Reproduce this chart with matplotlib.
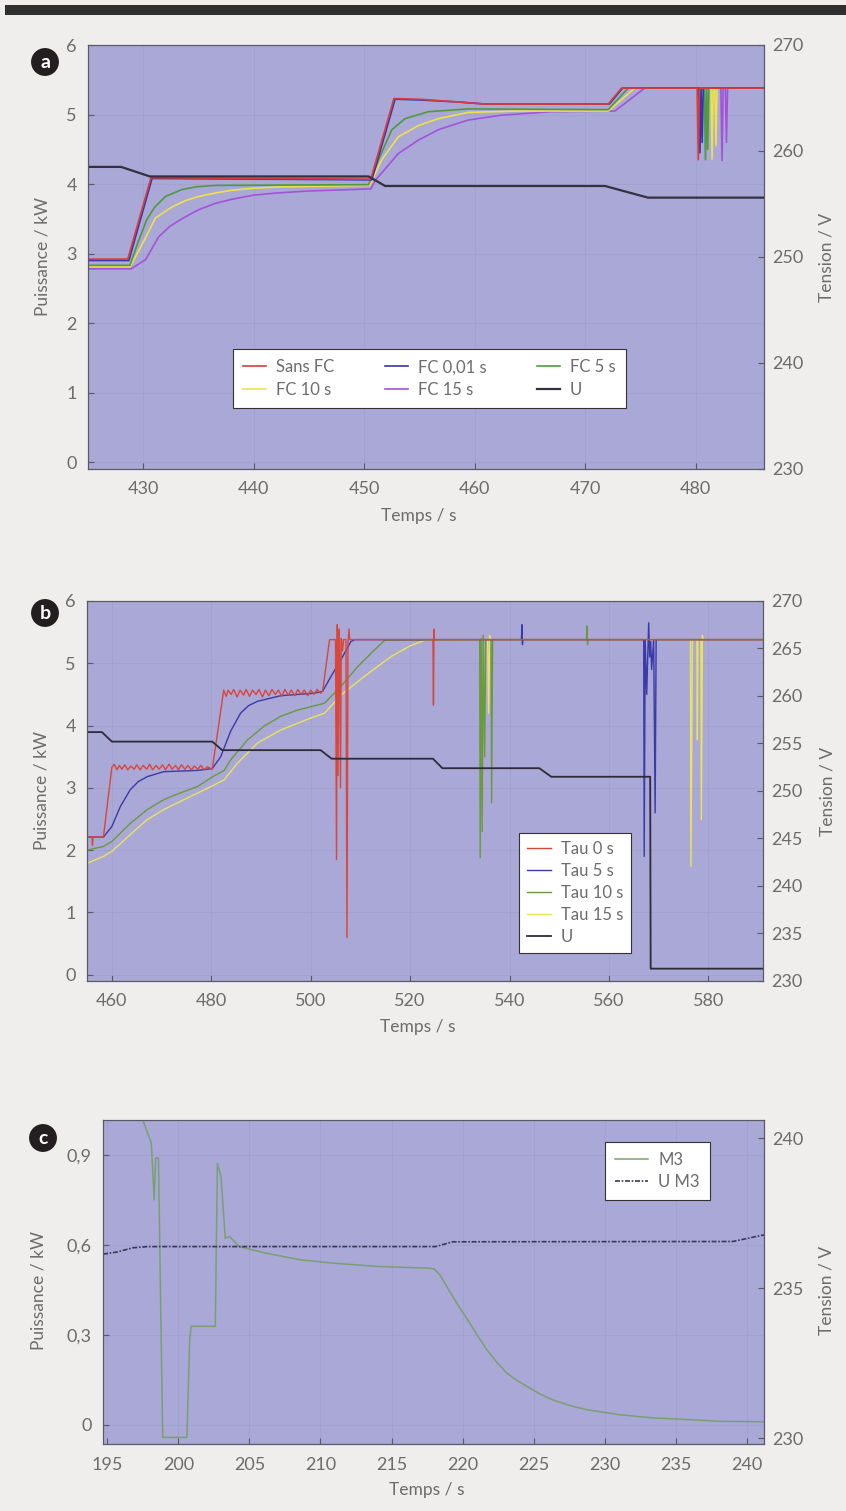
import matplotlib
matplotlib.use("Agg")
import matplotlib.pyplot as plt
from matplotlib.patches import Rectangle
from matplotlib.ticker import FuncFormatter

plt.rcParams['font.family'] = ['Lato', 'DejaVu Sans']

# ---------------- données (a) ----------------
a_sans_t = [425, 428.6, 430.7, 450.6, 452.7, 455.0, 458.5, 461.0, 472.1, 473.3, 480.15, 480.25, 480.35, 486.2]
a_sans_p = [2.92, 2.92, 4.09, 4.07, 5.23, 5.22, 5.18, 5.15, 5.15, 5.38, 5.38, 4.35, 5.38, 5.38]

a_fc001_t = [425, 428.7, 430.8, 450.7, 452.8, 455.0, 458.5, 461.0, 472.2, 473.4, 480.3, 480.4, 480.5, 480.6, 480.7, 486.2]
a_fc001_p = [2.90, 2.90, 4.08, 4.06, 5.22, 5.21, 5.18, 5.15, 5.15, 5.38, 5.38, 4.45, 5.38, 4.6, 5.38, 5.38]

a_fc5_t = [425, 428.8, 429.5, 430.3, 431.0, 432.0, 433.5, 434.8, 436.5, 450.4, 451.3, 452.5, 453.7,
           455.8, 459.4, 472.1, 473.9, 480.8, 480.9, 481.0, 481.1, 481.2, 486.2]
a_fc5_p = [2.83, 2.83, 3.15, 3.48, 3.66, 3.82, 3.92, 3.96, 3.98, 3.99, 4.35, 4.78, 4.94,
           5.04, 5.08, 5.07, 5.38, 5.38, 4.35, 5.38, 4.5, 5.38, 5.38]

a_fc10_t = [425, 428.8, 429.8, 431.1, 432.6, 433.8, 435.0, 436.5, 438.0, 440.0, 442.5, 450.5, 451.6,
            453.1, 454.9, 456.7, 459.4, 463.9, 472.1, 474.5, 481.4, 481.5, 481.6, 481.75, 481.85,
            481.95, 486.2]
a_fc10_p = [2.81, 2.81, 3.10, 3.51, 3.67, 3.76, 3.82, 3.87, 3.91, 3.94, 3.96, 3.98, 4.35,
            4.68, 4.84, 4.94, 5.03, 5.05, 5.05, 5.38, 5.38, 4.36, 5.38, 5.38, 4.55,
            5.38, 5.38]

a_fc15_t = [425, 428.9, 430.2, 431.4, 432.4, 433.5, 435.0, 436.5, 438.0, 440.0, 442.0, 445.0, 450.6,
            451.0, 453.1, 454.9, 456.7, 459.4, 462.4, 466.9, 472.7, 475.4, 482.3, 482.4, 482.5,
            482.7, 482.8, 482.9, 486.2]
a_fc15_p = [2.78, 2.78, 2.91, 3.24, 3.39, 3.50, 3.63, 3.72, 3.78, 3.84, 3.87, 3.90, 3.93,
            4.05, 4.44, 4.63, 4.78, 4.92, 4.99, 5.04, 5.05, 5.38, 5.38, 4.34, 5.38,
            5.38, 4.60, 5.38, 5.38]

a_u_t = [425, 428.0, 430.6, 450.4, 451.9, 471.8, 475.7, 486.2]
a_u_v = [258.5, 258.5, 257.6, 257.6, 256.7, 256.7, 255.6, 255.6]

a_labels = ["Sans FC", "FC 0,01 s", "FC 5 s", "FC 10 s", "FC 15 s", "U"]

# ---------------- données (b) ----------------
b_tau0_t = [455, 456.0, 456.1, 456.2, 458.3, 460.0,
            460.5, 461.0, 461.5, 462.0, 462.6, 463.2, 463.8, 464.5, 465.0, 465.7, 466.3, 467.0, 467.6,
            468.2, 468.9, 469.5, 470.2, 470.8, 471.5, 472.1, 472.8, 473.4, 474.0, 474.7, 475.3, 476.0,
            476.6, 477.3, 477.9, 478.6, 479.2, 480.2,
            482.5, 483.0, 483.4, 484.0, 484.5, 485.2, 485.8, 486.5, 487.0, 487.7, 488.3, 489.0, 489.6,
            490.3, 490.9, 491.6, 492.2, 492.9, 493.5, 494.2, 494.8, 495.5, 496.1, 496.8, 497.4, 498.1,
            498.7, 499.4, 500.0, 500.7, 501.3, 502.0, 502.4,
            503.8, 505.0, 505.2, 505.35, 505.5, 505.65, 505.8, 506.0, 506.15, 506.4, 506.6, 507.1,
            507.3, 507.5, 507.7, 507.85, 524.6, 524.7, 524.8, 524.9, 591]
b_tau0_p = [2.21, 2.21, 2.08, 2.21, 2.21, 3.33,
            3.38, 3.29, 3.36, 3.30, 3.37, 3.29, 3.35, 3.30, 3.37, 3.29, 3.36, 3.30, 3.38,
            3.29, 3.36, 3.30, 3.37, 3.29, 3.38, 3.30, 3.36, 3.29, 3.37, 3.30, 3.36, 3.29,
            3.35, 3.30, 3.36, 3.29, 3.34, 3.30,
            4.57, 4.47, 4.57, 4.50, 4.58, 4.46, 4.57, 4.49, 4.58, 4.47, 4.57, 4.50, 4.58,
            4.46, 4.57, 4.48, 4.58, 4.50, 4.57, 4.47, 4.58, 4.49, 4.57, 4.48, 4.58, 4.50,
            4.57, 4.48, 4.57, 4.50, 4.58, 4.52, 4.55,
            5.38, 5.38, 1.85, 5.62, 3.2, 5.55, 5.3, 3.0, 5.4, 5.2, 5.38, 5.38,
            0.6, 5.3, 5.55, 5.38, 5.38, 4.33, 5.55, 5.38, 5.38]

b_tau5_t = [455, 458.3, 460.0, 461.7, 463.7, 465.3, 467.1, 470.4, 477.2, 480.2, 481.9, 483.9, 485.9,
            487.5, 489.3, 494.0, 500.7, 502.4, 504.1, 506.1, 508.1, 508.9, 542.4, 542.5, 542.6, 542.7,
            567.0, 567.1, 567.3, 567.6, 568.0, 568.2, 568.4, 568.6, 569.0, 569.3, 569.5, 591]
b_tau5_p = [2.21, 2.21, 2.38, 2.70, 2.97, 3.10, 3.18, 3.26, 3.28, 3.31, 3.50, 3.91, 4.20,
            4.32, 4.39, 4.48, 4.52, 4.55, 4.79, 5.06, 5.35, 5.38, 5.38, 5.62, 5.30, 5.38,
            5.38, 1.90, 5.38, 4.5, 5.65, 5.1, 5.35, 4.9, 5.38, 2.6, 5.38, 5.38]

b_tau10_t = [455, 458.3, 460.0, 463.7, 467.1, 470.4, 473.8, 477.2, 480.5, 482.6, 483.9, 487.3, 490.6,
             494.0, 497.4, 502.8, 506.1, 509.5, 512.9, 514.9, 534.0, 534.1, 534.3, 534.5, 534.7, 535.0,
             535.2, 536.3, 536.4, 536.6, 555.5, 555.6, 555.7, 555.8, 591]
b_tau10_p = [2.00, 2.06, 2.14, 2.43, 2.65, 2.81, 2.92, 3.02, 3.19, 3.28, 3.45, 3.77, 3.99,
             4.15, 4.25, 4.36, 4.63, 4.95, 5.22, 5.37, 5.38, 1.88, 5.40, 2.30, 5.45, 3.50,
             5.38, 5.38, 2.76, 5.38, 5.38, 5.60, 5.30, 5.38, 5.38]

b_tau15_t = [455, 458.3, 460.0, 463.7, 467.1, 470.4, 474.5, 479.9, 482.6, 485.3, 489.3, 494.0, 500.0,
             502.8, 506.1, 510.8, 516.2, 520.0, 523.0, 535.6, 535.8, 536.0, 536.2, 576.4, 576.5, 576.8,
             577.7, 577.8, 577.9, 578.5, 578.6, 578.8, 579.0, 591]
b_tau15_p = [1.79, 1.90, 1.98, 2.25, 2.49, 2.65, 2.81, 3.02, 3.13, 3.40, 3.72, 3.93, 4.12,
             4.20, 4.49, 4.79, 5.11, 5.28, 5.37, 5.38, 4.20, 5.45, 5.38, 5.38, 1.74, 5.38,
             5.38, 3.77, 5.38, 5.38, 2.49, 5.45, 5.38, 5.38]

b_u_t = [455, 458.0, 460.0, 480.2, 482.2, 502.0, 504.2, 524.6, 526.5, 546.0, 548.4, 568.3, 568.4, 591]
b_u_v = [256.2, 256.2, 255.2, 255.2, 254.3, 254.3, 253.4, 253.4, 252.4, 252.4, 251.5, 251.5, 231.3, 231.3]

b_labels = ["Tau 0 s", "Tau 5 s", "Tau 10 s", "Tau 15 s", "U"]

# ---------------- données (c) ----------------
c_m3_t = [197.0, 197.5, 198.1, 198.3, 198.4, 198.6, 198.9, 200.6, 200.8, 200.9, 202.6, 202.75, 203.0,
          203.3, 203.6, 204.3, 206.2, 208.6, 210.9, 214.0, 217.7, 218.0, 218.4, 219.3, 219.9, 220.5,
          221.1, 221.7, 222.4, 223.1, 223.8, 224.5, 225.4, 226.3, 227.5, 228.7, 231.0, 233.4, 235.7,
          238.0, 241.2]
c_m3_p = [1.10, 1.017, 0.94, 0.75, 0.89, 0.89, -0.043, -0.043, 0.283, 0.328, 0.328, 0.872, 0.828,
          0.622, 0.628, 0.594, 0.572, 0.55, 0.539, 0.528, 0.522, 0.519, 0.50, 0.428, 0.382, 0.339,
          0.293, 0.25, 0.208, 0.172, 0.148, 0.128, 0.103, 0.083, 0.064, 0.05, 0.033, 0.022, 0.017,
          0.011, 0.009]

c_u_t = [194.7, 195.7, 196.8, 197.8, 218.1, 219.3, 239.0, 241.2]
c_u_v = [236.13, 236.2, 236.34, 236.38, 236.38, 236.54, 236.55, 236.77]

c_labels = ["M3", "U M3"]

# ---------------- style ----------------
BG = '#efeeec'
FACE = '#a9a8d6'
GRID = '#a1a0ce'
TXT = '#6c6c6c'
SPINE = '#5a5a66'

fig = plt.figure(figsize=(8.46, 15.11), dpi=100, facecolor=BG)
W, H = 846.0, 1511.0

fig.add_artist(Rectangle((5 / W, 1 - 15 / H), 1, 10 / H, transform=fig.transFigure,
                         color='#2f2f2f', lw=0))


def make_axes(left, right, top, bottom):
    ax = fig.add_axes([left / W, 1 - bottom / H, (right - left) / W, (bottom - top) / H])
    ax.set_facecolor(FACE)
    ax2 = ax.twinx()
    for a in (ax, ax2):
        for s in a.spines.values():
            s.set_color(SPINE)
            s.set_linewidth(0.8)
    ax.tick_params(direction='in', length=4, color=SPINE, labelcolor=TXT, labelsize=13)
    ax.tick_params(axis='y', pad=8)
    ax.tick_params(axis='x', pad=9)
    ax2.tick_params(direction='in', length=4, color=SPINE, labelcolor=TXT, labelsize=13, pad=6)
    ax.grid(True, color=GRID, lw=0.6)
    ax.set_axisbelow(True)
    return ax, ax2


def labels(ax, ax2, xl, yl_left, yl_right, ymid):
    kw = dict(color=TXT, fontsize=12.5)
    ax.set_xlabel("Temps / s", **kw)
    ax.set_ylabel("Puissance / kW", **kw)
    ax2.set_ylabel("Tension / V", **kw)
    ax.xaxis.set_label_coords(0.49, xl)
    ax.yaxis.set_label_coords(yl_left, ymid)
    ax2.yaxis.set_label_coords(yl_right, ymid)


def badge(x, y, letter):
    fig.text(x / W, 1 - y / H, letter, color='white', fontsize=14, fontweight='bold',
             ha='center', va='center',
             bbox=dict(boxstyle='circle,pad=0.28', fc='#231f20', ec='none'))


def style_legend(leg):
    leg.get_frame().set_linewidth(0.8)
    for t in leg.get_texts():
        t.set_color(TXT)


comma = FuncFormatter(lambda v, p: ('%g' % v).replace('.', ','))

# ---------------- panneau a ----------------
ax, ax2 = make_axes(88, 764, 45, 469)
lw = 1.2
h_fc15, = ax.plot(a_fc15_t, a_fc15_p, color='#a453d8', lw=lw)
h_fc10, = ax.plot(a_fc10_t, a_fc10_p, color='#eee24a', lw=lw)
h_fc5, = ax.plot(a_fc5_t, a_fc5_p, color='#4f9a3c', lw=lw)
h_fc001, = ax.plot(a_fc001_t, a_fc001_p, color='#3636a8', lw=lw)
h_sans, = ax.plot(a_sans_t, a_sans_p, color='#d83c3c', lw=lw)
h_u, = ax2.plot(a_u_t, a_u_v, color='#35303f', lw=1.6)
ax.set_xlim(425, 486.2)
ax.set_ylim(-0.1, 6)
ax2.set_ylim(230, 270)
ax.set_xticks([430, 440, 450, 460, 470, 480])
ax.set_yticks([0, 1, 2, 3, 4, 5, 6])
ax2.set_yticks([230, 240, 250, 260, 270])
hs = [h_sans, h_fc10, h_fc001, h_fc15, h_fc5, h_u]
ls = [a_labels[0], a_labels[3], a_labels[1], a_labels[4], a_labels[2], a_labels[5]]
leg = ax2.legend(hs, ls, ncol=3, loc='lower left', bbox_to_anchor=(0.2145, 0.144),
                 borderaxespad=0, fontsize=12, fancybox=False, framealpha=1,
                 edgecolor='#333333', handlelength=1.4, handletextpad=0.6,
                 columnspacing=3.0, labelspacing=0.4, borderpad=0.6)
style_legend(leg)
labels(ax, ax2, -0.092, -0.056, 1.081, 0.5)
badge(45, 62, 'a')

# ---------------- panneau b ----------------
ax, ax2 = make_axes(87, 763, 601, 981)
lw = 1.0
h_15, = ax.plot(b_tau15_t, b_tau15_p, color='#ece458', lw=lw)
h_10, = ax.plot(b_tau10_t, b_tau10_p, color='#6a9a3c', lw=lw)
h_5, = ax.plot(b_tau5_t, b_tau5_p, color='#3a3aa8', lw=lw)
h_0, = ax.plot(b_tau0_t, b_tau0_p, color='#d9463a', lw=lw)
h_ub, = ax2.plot(b_u_t, b_u_v, color='#2e2a3a', lw=1.3)
ax.set_xlim(455, 591)
ax.set_ylim(-0.1, 6)
ax2.set_ylim(230, 270)
ax.set_xticks([460, 480, 500, 520, 540, 560, 580])
ax.set_yticks([0, 1, 2, 3, 4, 5, 6])
ax2.set_yticks([230, 235, 240, 245, 250, 255, 260, 265, 270])
leg = ax2.legend([h_0, h_5, h_10, h_15, h_ub], b_labels, loc='lower left',
                 bbox_to_anchor=(0.639, 0.0737), borderaxespad=0, fontsize=12, fancybox=False,
                 framealpha=1, edgecolor='#333333', handlelength=1.4, handletextpad=0.6,
                 labelspacing=0.35, borderpad=0.5)
style_legend(leg)
labels(ax, ax2, -0.1, -0.056, 1.083, 0.5)
badge(45, 613, 'b')

# ---------------- panneau c ----------------
ax, ax2 = make_axes(103, 764, 1120, 1444)
h_m3, = ax.plot(c_m3_t, c_m3_p, color='#7c9f72', lw=1.1)
h_um3, = ax2.plot(c_u_t, c_u_v, color='#3a3858', lw=1.2, dashes=(3, 1, 1, 1))
ax.set_xlim(194.7, 241.2)
ax.set_ylim(-0.065, 1.017)
ax2.set_ylim(229.8, 240.6)
ax.set_xticks([195, 200, 205, 210, 215, 220, 225, 230, 235, 240])
ax.set_yticks([0, 0.3, 0.6, 0.9])
ax.yaxis.set_major_formatter(comma)
ax2.set_yticks([230, 235, 240])
leg = ax2.legend([h_m3, h_um3], c_labels, loc='upper left', bbox_to_anchor=(0.759, 0.932),
                 borderaxespad=0, fontsize=12, fancybox=False, framealpha=1,
                 edgecolor='#333333', handlelength=2.0, handletextpad=0.6,
                 labelspacing=0.35, borderpad=0.6)
style_legend(leg)
labels(ax, ax2, -0.117, -0.086, 1.083, 0.475)
badge(43, 1138, 'c')

fig.savefig("out.png", dpi=100, facecolor=BG)
